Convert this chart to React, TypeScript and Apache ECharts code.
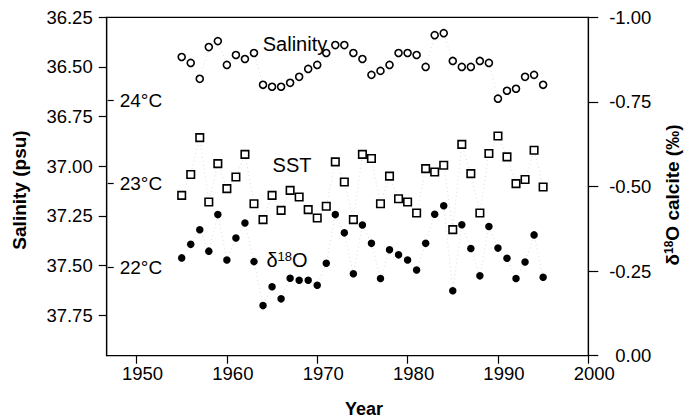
import React, { useEffect, useRef } from "react";
import * as echarts from "echarts";

const years = [
  1955, 1956, 1957, 1958, 1959, 1960, 1961, 1962, 1963, 1964, 1965, 1966, 1967, 1968,
  1969, 1970, 1971, 1972, 1973, 1974, 1975, 1976, 1977, 1978, 1979, 1980, 1981, 1982,
  1983, 1984, 1985, 1986, 1987, 1988, 1989, 1990, 1991, 1992, 1993, 1994, 1995,
];

const salinity = [
  36.45, 36.48, 36.56, 36.4, 36.37, 36.49, 36.44, 36.46, 36.43, 36.59, 36.6, 36.6, 36.58,
  36.55, 36.51, 36.49, 36.43, 36.39, 36.39, 36.43, 36.46, 36.54, 36.52, 36.49, 36.43,
  36.43, 36.44, 36.5, 36.34, 36.33, 36.47, 36.5, 36.5, 36.47, 36.48, 36.66, 36.62, 36.61,
  36.55, 36.54, 36.59,
];

const sst = [
  22.86, 23.11, 23.55, 22.78, 23.24, 22.94, 23.08, 23.35, 22.76, 22.57, 22.86, 22.68,
  22.92, 22.84, 22.69, 22.59, 22.73, 23.26, 23.02, 22.57, 23.35, 23.3, 22.76, 23.09,
  22.82, 22.78, 22.65, 23.18, 23.14, 23.22, 22.45, 23.47, 23.12, 22.65, 23.36, 23.57,
  23.32, 23.0, 23.05, 23.4, 22.96,
];

const d18o = [
  -0.289, -0.329, -0.372, -0.309, -0.417, -0.283, -0.348, -0.392, -0.278, -0.148, -0.204,
  -0.168, -0.229, -0.223, -0.223, -0.208, -0.273, -0.417, -0.363, -0.242, -0.386, -0.332,
  -0.228, -0.313, -0.298, -0.283, -0.253, -0.332, -0.418, -0.443, -0.192, -0.387, -0.317,
  -0.236, -0.382, -0.318, -0.288, -0.228, -0.277, -0.357, -0.232,
];

const yearTicks = [1950, 1960, 1970, 1980, 1990, 2000];
const salinityTicks = [36.25, 36.5, 36.75, 37.0, 37.25, 37.5, 37.75];
const d18oTicks = [-1.0, -0.75, -0.5, -0.25, 0.0];
const tempTicks = [22, 23, 24];

const FONT = "'Liberation Sans', Arial, Helvetica, sans-serif";

export default function App() {
  const ref = useRef<HTMLDivElement>(null);
  useEffect(() => {
    if (!ref.current) return;
    const chart = echarts.init(ref.current, undefined, { renderer: "svg" });
    const pair = (vals: number[]) => years.map((y, i) => [y, vals[i]]);
    const lineStyle = { color: "#b0b0b0", width: 0.6, type: [1, 3] as number[], opacity: 0.8 };
    const center = {
      align: "center",
      verticalAlign: "middle",
      textAlign: "center",
      textVerticalAlign: "middle",
    };
    chart.setOption({
      animation: false,
      backgroundColor: "#fff",
      grid: {
        left: 106.7,
        right: 97.7,
        top: 17.3,
        bottom: 63.3,
        show: true,
        borderColor: "#000",
        borderWidth: 1.2,
        backgroundColor: "transparent",
      },
      xAxis: {
        type: "value",
        min: 1946.7,
        max: 2000,
        splitLine: { show: false },
        axisLine: { lineStyle: { color: "#000", width: 1.2 } },
        axisTick: { customValues: yearTicks, length: 8, lineStyle: { color: "#000", width: 1.2 } },
        axisLabel: {
          customValues: yearTicks,
          margin: 8,
          color: "#000",
          fontSize: 18.5,
          fontFamily: FONT,
          padding: [0, 0, 0, 12],
          formatter: (v: number) => String(v),
        },
      },
      yAxis: [
        {
          type: "value",
          inverse: true,
          min: 36.25,
          max: 37.955,
          position: "left",
          splitLine: { show: false },
          axisLine: { show: true, lineStyle: { color: "#000", width: 1.2 } },
          axisTick: { customValues: salinityTicks, length: 8, lineStyle: { color: "#000", width: 1.2 } },
          axisLabel: {
            customValues: salinityTicks,
            margin: 14,
            color: "#000",
            fontSize: 18.5,
            fontFamily: FONT,
            formatter: (v: number) => v.toFixed(2),
          },
        },
        {
          type: "value",
          inverse: true,
          min: -1,
          max: 0,
          position: "right",
          splitLine: { show: false },
          axisLine: { show: true, lineStyle: { color: "#000", width: 1.2 } },
          axisTick: { customValues: d18oTicks, length: 10, lineStyle: { color: "#000", width: 1.2 } },
          axisLabel: {
            customValues: d18oTicks,
            margin: 63,
            align: "right",
            color: "#000",
            fontSize: 18.5,
            fontFamily: FONT,
            formatter: (v: number) => (Math.abs(v) < 1e-9 ? "0.00" : v.toFixed(2)),
          },
        },
        {
          type: "value",
          min: 20.943,
          max: 24.989,
          position: "left",
          offset: -1,
          splitLine: { show: false },
          axisLine: { show: false },
          axisTick: {
            show: true,
            inside: true,
            customValues: tempTicks,
            length: 6,
            lineStyle: { color: "#000", width: 1.2 },
          },
          axisLabel: {
            inside: true,
            customValues: tempTicks,
            margin: 12,
            color: "#000",
            fontSize: 19,
            fontFamily: FONT,
            formatter: (v: number) => `${v}°C`,
          },
        },
      ],
      series: [
        {
          name: "Salinity",
          type: "line",
          yAxisIndex: 0,
          data: pair(salinity),
          symbol: "circle",
          symbolSize: 7,
          lineStyle,
          itemStyle: { color: "#fff", borderColor: "#000", borderWidth: 1.6 },
          z: 3,
        },
        {
          name: "SST",
          type: "line",
          yAxisIndex: 2,
          data: pair(sst),
          symbol: "rect",
          symbolSize: 7.5,
          lineStyle,
          itemStyle: { color: "#fff", borderColor: "#000", borderWidth: 1.6 },
          z: 3,
        },
        {
          name: "d18O",
          type: "line",
          yAxisIndex: 1,
          data: pair(d18o),
          symbol: "circle",
          symbolSize: 7.5,
          lineStyle,
          itemStyle: { color: "#000", borderColor: "#000", borderWidth: 0 },
          z: 3,
        },
      ],
      graphic: [
        {
          type: "text",
          x: 295,
          y: 44,
          style: { text: "Salinity", fontSize: 20, fontFamily: FONT, fill: "#000", ...center },
        },
        {
          type: "text",
          x: 292,
          y: 165,
          style: { text: "SST", fontSize: 20, fontFamily: FONT, fill: "#000", ...center },
        },
        {
          type: "text",
          x: 287,
          y: 260,
          style: {
            text: "{a|δ}{b|18}{a|O}",
            fill: "#000",
            ...center,
            rich: {
              a: { fontSize: 20, fontFamily: FONT, fill: "#000" },
              b: { fontSize: 13, fontFamily: FONT, fill: "#000", verticalAlign: "top", padding: [0, 0, 6, 0] },
            },
          },
        },
        {
          type: "text",
          x: 19,
          y: 190,
          rotation: Math.PI / 2,
          style: {
            text: "Salinity (psu)",
            fontSize: 19,
            fontWeight: "bold",
            fontFamily: FONT,
            fill: "#000",
            ...center,
          },
        },
        {
          type: "text",
          x: 672,
          y: 195,
          rotation: Math.PI / 2,
          style: {
            text: "{a|δ}{b|18}{a|O calcite (‰)}",
            fill: "#000",
            ...center,
            rich: {
              a: { fontSize: 19, fontWeight: "bold", fontFamily: FONT, fill: "#000" },
              b: { fontSize: 12, fontWeight: "bold", fontFamily: FONT, fill: "#000", verticalAlign: "top", padding: [0, 0, 7, 0] },
            },
          },
        },
        {
          type: "text",
          x: 364,
          y: 409,
          style: {
            text: "Year",
            fontSize: 18,
            fontWeight: "bold",
            fontFamily: FONT,
            fill: "#000",
            ...center,
          },
        },
      ],
    });
    return () => chart.dispose();
  }, []);
  return (
    <div
      ref={ref}
      style={{ width: 686, height: 419, position: "absolute", left: 0, top: 0 }}
    />
  );
}
